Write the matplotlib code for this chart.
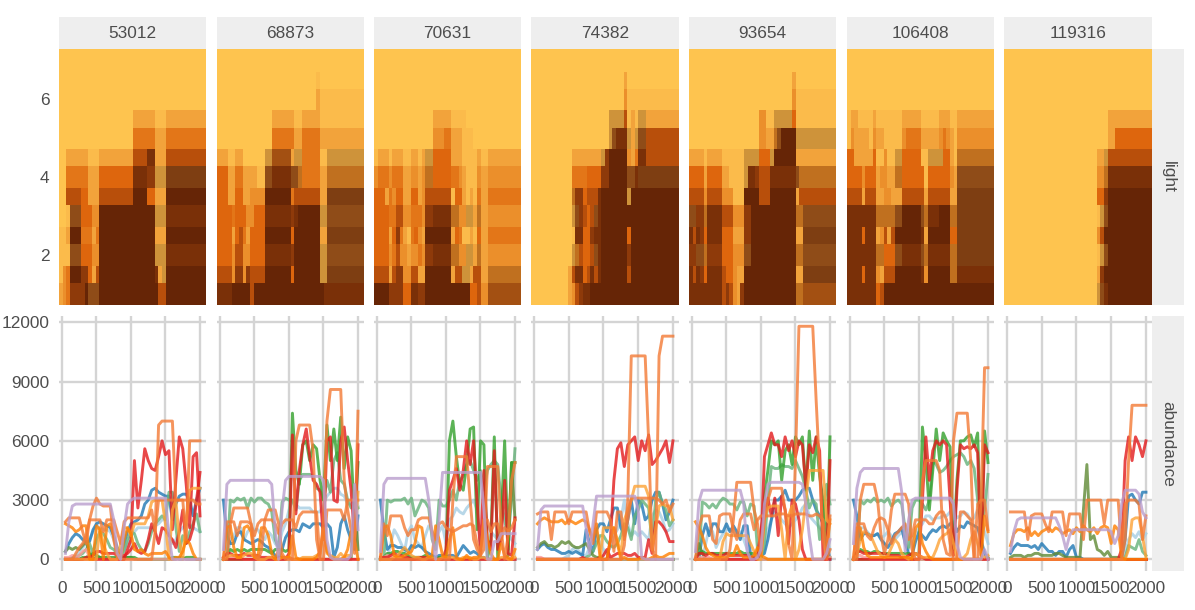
import numpy as np
import matplotlib
matplotlib.use("Agg")
import matplotlib.pyplot as plt
from matplotlib.colors import ListedColormap

plt.rcParams["font.family"] = ["Liberation Sans", "DejaVu Sans"]

panel_ids = [53012, 68873, 70631, 74382, 93654, 106408, 119316]
times = list(range(50, 2001, 50))
light_edges = [0.72, 1.28, 1.72, 2.28, 2.72, 3.28, 3.72, 4.28, 4.72, 5.26, 5.72, 6.26, 6.69, 7.28]
x_edges = [25 + 50 * i for i in range(41)]

# colour steps of the light panels, each row below is "<step>x<run length>" over the 40 times
steps = "0123456789abcde"
step_colors = ["#FEC44F", "#FBBB4B", "#F2A33B", "#EB8F2B", "#E37618", "#DE660D", "#B84F0B", "#8E3A0A",
               "#7A3008", "#662506", "#CE933A", "#C0701F", "#8F4C18", "#7E3E12", "#A35012"]

# rows run from light 7 down to light 1
light_53012 = ["0x40", "0x40", "0x40",
               "0x20 2x6 1x3 2x11",
               "0x20 4x6 2x3 4x11",
               "0x2 2x6 1x3 2x9 6x4 8x2 2x3 6x11",
               "0x2 4x6 2x3 5x9 8x4 7x2 ax3 dx11",
               "0x2 6x4 5x2 2x3 6x9 9x4 5x2 2x3 9x11",
               "0x2 1x1 cx3 5x3 3x2 9x15 ax3 8x11",
               "1x2 2x1 9x3 4x3 2x1 4x1 9x15 2x3 9x11",
               "1x2 1x1 cx3 5x3 3x2 9x15 ax3 8x11",
               "1x1 3x1 4x1 9x3 7x2 5x1 2x1 6x1 9x15 8x1 2x1 ax1 9x11",
               "2x1 3x1 4x1 7x4 9x1 cx3 9x16 6x2 9x11"]
light_68873 = ["0x40",
               "0x27 1x1 0x12",
               "0x27 2x1 1x12",
               "0x15 2x6 1x2 2x4 2x1 1x12",
               "0x15 4x6 2x2 4x4 4x1 2x12",
               "2x3 1x2 2x2 0x6 ax2 ex5 2x1 ax2 4x5 1x2 ax10",
               "5x3 2x2 4x2 2x4 1x2 cx2 8x5 cx2 bx1 4x5 2x2 bx10",
               "5x3 2x2 5x2 2x2 3x4 9x7 4x1 6x7 2x2 dx10",
               "5x4 4x1 5x3 3x2 5x3 8x7 7x1 8x1 9x6 ax2 cx10",
               "5x4 2x1 5x1 6x1 4x1 2x1 5x4 9x7 5x1 9x7 2x2 dx10",
               "5x4 3x1 6x2 3x2 5x4 8x7 7x1 9x7 ax2 cx10",
               "6x4 3x1 7x2 3x1 7x1 6x4 9x7 5x1 9x7 ax2 dx10",
               "8x4 9x5 6x1 9x19 8x11"]
light_70631 = ["0x40", "0x40", "0x40",
               "0x16 2x5 1x4 0x15",
               "0x16 3x3 4x2 2x3 1x3 0x13",
               "1x1 2x3 1x1 2x3 1x2 2x2 1x1 2x1 ax2 5x5 2x3 1x4 2x1 1x2 2x9",
               "3x1 4x3 3x1 4x3 2x2 3x2 2x1 3x1 bx2 5x5 4x2 3x1 2x1 1x3 3x1 2x2 3x9",
               "5x3 2x1 4x1 3x1 5x2 2x2 5x2 2x1 3x1 6x7 1x1 5x2 2x1 1x1 2x1 1x1 4x1 2x2 4x9",
               "5x4 4x2 6x2 3x2 4x3 3x1 7x2 8x5 bx2 3x2 ax2 2x1 bx1 2x2 3x9",
               "5x4 2x1 5x1 7x1 4x1 2x1 1x1 4x1 5x1 3x1 2x1 9x7 2x1 5x1 4x1 1x2 2x1 1x1 5x1 2x2 4x9",
               "5x4 3x1 4x1 6x1 3x1 3x1 2x1 3x2 4x1 3x1 7x2 8x5 bx2 3x2 ax2 2x1 bx1 2x2 3x9",
               "6x4 2x1 6x1 7x2 3x2 6x2 2x2 9x7 2x1 6x2 ax2 2x1 6x2 2x2 bx9",
               "9x4 7x4 5x2 8x2 7x2 9x12 5x2 6x1 3x2 ex9"]
light_74382 = ["0x40",
               "0x25 2x1 0x14",
               "0x25 3x1 1x14",
               "0x21 ax4 6x1 1x1 2x1 1x1 ax2 2x9",
               "0x21 ax1 cx1 8x3 ax1 2x1 ax1 cx2 6x9",
               "0x11 2x8 ax1 7x1 9x5 3x1 2x1 4x1 8x2 6x9",
               "0x11 4x4 5x4 7x2 9x5 cx2 8x1 dx11",
               "0x11 bx1 7x2 5x1 6x3 8x1 9x7 ax1 9x13",
               "0x11 ax1 cx1 7x1 6x1 5x1 6x1 cx1 8x1 9x21",
               "0x11 1x1 8x2 5x2 7x1 8x2 9x7 5x1 9x13",
               "0x11 ax1 bx1 6x1 5x1 5x1 6x1 cx1 8x1 9x7 7x1 9x13",
               "0x10 2x1 6x1 8x2 5x1 6x1 8x1 6x1 8x1 9x7 6x1 9x13",
               "0x10 2x1 3x1 6x1 7x1 8x2 9x24"]
light_93654 = ["0x40",
               "0x28 2x1 0x11",
               "0x28 3x1 1x11",
               "0x19 3x2 1x2 ax5 5x1 1x11",
               "0x19 3x2 2x2 bx1 cx1 9x4 ax11",
               "2x4 1x1 2x4 1x6 ax4 5x3 ax1 9x6 2x11",
               "5x4 2x1 5x4 2x2 1x4 ax1 8x2 7x1 6x3 8x7 cx1 bx10",
               "6x4 3x1 6x4 3x3 1x3 9x4 6x3 9x7 2x1 6x10",
               "cx2 7x2 bx1 8x4 6x3 3x3 7x2 9x12 bx2 cx9",
               "8x1 6x1 8x1 7x1 5x1 8x4 5x3 2x3 7x2 9x12 2x2 dx9",
               "7x2 cx2 bx1 7x4 5x3 3x3 cx2 9x12 bx2 cx9",
               "8x1 6x1 8x1 7x1 5x1 8x4 6x1 5x2 3x1 2x2 9x14 2x2 dx9",
               "8x9 6x1 7x1 6x1 3x1 2x1 7x1 9x14 bx2 ex9"]
light_106408 = ["0x40", "0x40", "0x40",
                "1x1 2x2 1x4 2x1 1x7 2x5 1x5 2x3 1x2 2x10",
                "1x1 3x1 2x4 1x1 3x1 2x2 1x5 3x1 4x4 2x5 3x1 4x1 3x1 2x1 1x1 3x10",
                "5x2 2x5 5x1 1x2 3x1 1x2 ax2 5x5 1x2 ax4 5x2 2x1 1x1 bx10",
                "5x4 3x1 5x3 2x1 3x2 2x2 bx2 5x6 1x1 5x6 3x1 2x1 cx10",
                "6x4 2x1 6x3 2x2 3x2 2x3 6x6 2x1 6x6 2x2 dx10",
                "8x8 bx5 cx2 9x5 cx1 bx1 8x3 9x3 bx2 dx10",
                "8x4 5x1 8x3 2x1 3x1 6x1 2x1 6x1 9x7 8x1 2x1 9x6 5x2 dx10",
                "8x8 bx2 5x3 cx2 8x5 cx1 bx1 8x6 bx2 dx10",
                "8x4 5x1 8x3 3x1 2x1 6x3 9x7 8x1 3x1 9x6 bx2 8x10",
                "8x8 5x1 6x1 9x30"]
light_119316 = ["0x40", "0x40", "0x40",
                "0x28 2x12",
                "0x28 2x2 5x10",
                "0x25 2x2 ax1 6x12",
                "0x25 3x2 bx1 8x12",
                "0x25 5x2 7x1 9x12",
                "0x25 1x1 ax1 cx1 9x12",
                "0x25 3x1 6x1 9x13",
                "0x25 1x1 ax1 cx1 9x12",
                "0x25 2x1 7x1 9x13",
                "0x25 ax1 cx1 8x1 9x12"]

# abundance in hundreds, one row per taxon, same order in every panel:
# light blue, blue, sea green, olive, green, pink, dark red, red, light orange, orange, salmon, salmon, lilac
line_colors = ["#a6cee3", "#1f78b4", "#66b27a", "#5f8a35", "#33a02c", "#fb9a99", "#e31a1c", "#e31a1c",
               "#fda235", "#ff7f00", "#f37a35", "#f37a35", "#ba9ece"]

lines_53012 = [
    [0,0,0,2,4,6,8,10,14,17, 16,15,15,14,10,4,2,5,8,12, 14,16,16,16,16,16,17,18,20,20, 14,8,10,14,16,18,17,16,15,14],
    [4,8,11,13,12,10,9,9,15,18, 19,18,17,16,12,6,3,8,14,18, 19,20,22,28,30,35,36,34,33,32, 32,20,28,32,33,33,30,22,30,36],
    [0,0,1,1,2,3,5,8,3,10, 14,13,10,6,5,3,2,4,10,14, 13,8,5,4,8,14,18,20,22,20, 34,34,16,4,12,8,14,18,23,14],
    [4,6,5,6,5,7,9,3,0,1, 1,0,0,0,0,1,0,0,1,1, 0,0,0,0,0,0,0,0,0,0, 0,0,0,1,1,0,0,0,0,0],
    [0,0,0,0,0,1,1,2,3,2, 1,1,1,1,1,1,1,1,1,1, 1,0,0,0,0,0,0,0,0,0, 0,1,1,0,0,1,1,1,0,0],
    [1,1,2,1,2,4,5,1,0,0, 0,0,0,0,0,0,0,0,0,0, 0,0,0,0,0,0,0,0,0,0, 0,0,0,0,0,0,0,0,0,0],
    [0,0,0,0,0,0,1,1,2,4, 4,3,3,3,3,2,1,2,3,5, 8,4,3,4,10,18,14,8,16,15, 12,10,6,14,25,8,10,16,30,44],
    [0,0,0,0,0,0,0,0,0,0, 0,0,0,0,0,0,0,0,5,10, 50,26,40,56,50,46,45,52,60,53, 55,15,40,62,56,38,16,52,54,22],
    [0,0,0,0,0,0,0,0,0,0, 16,8,3,0,0,0,8,16,16,12, 18,18,18,18,22,29,30,30,30,18, 0,25,30,10,0,20,35,36,36,36],
    [18,17,16,14,15,17,17,0,0,17, 15,0,17,18,12,4,1,10,16,13, 5,4,5,3,2,3,3,3,3,4, 1,0,1,1,4,10,8,3,0,0],
    [19,21,21,21,21,14,8,20,20,20, 20,14,20,20,20,14,8,19,21,21, 21,21,21,21,21,25,14,68,70,70, 70,70,30,30,30,10,60,60,60,60],
    [0,0,0,3,6,8,12,20,27,31, 28,27,27,27,10,1,0,0,0,0, 0,0,0,0,0,0,14,30,30,30, 30,30,30,30,30,30,30,30,28,28],
    [3,19,27,28,28,28,28,28,28,28, 28,28,28,28,20,3,0,16,28,30, 31,31,31,31,31,31,31,31,31,31, 12,0,0,0,0,0,0,0,0,0],
]
lines_68873 = [
    [0,0,10,12,16,16,10,14,16,15, 15,12,10,14,12,8,6,14,18,25, 30,28,26,26,26,26,24,24,24,28, 32,34,36,36,33,32,28,28,30,27],
    [30,12,8,8,13,14,10,9,8,9, 10,9,7,6,4,2,1,5,11,14, 15,15,14,18,17,16,18,18,18,16, 18,16,1,6,18,22,15,10,5,22],
    [0,0,30,29,31,30,31,26,31,29, 31,31,29,28,24,10,6,29,31,30, 30,25,40,43,43,43,42,36,35,30, 40,34,50,54,40,38,30,26,28,26],
    [0,0,0,0,0,0,0,0,0,0, 0,0,0,0,0,0,0,0,0,0, 0,0,0,0,0,0,0,0,0,0, 0,0,0,0,0,0,0,0,30,5],
    [0,2,5,4,5,4,5,4,5,5, 5,5,5,4,3,5,5,5,4,5, 74,45,38,58,60,50,58,56,40,30, 68,50,66,50,72,46,62,55,20,49],
    [1,2,1,1,1,1,0,0,0,0, 0,0,0,0,0,0,0,0,0,0, 0,0,0,0,0,0,0,0,0,0, 0,0,0,0,0,0,0,0,0,0],
    [1,3,3,2,2,2,3,2,2,2, 2,1,1,1,1,0,1,1,1,1, 0,0,0,0,0,0,0,0,0,0, 0,0,0,0,0,0,0,0,0,0],
    [0,0,0,0,0,0,0,0,0,0, 0,0,0,0,0,0,0,0,0,3, 63,23,45,58,66,52,40,38,34,10, 60,62,30,29,60,67,50,35,10,58],
    [0,1,2,2,1,1,2,3,3,1, 0,0,0,1,1,0,0,1,1,1, 0,0,0,1,1,1,1,2,3,15, 3,2,1,1,3,1,2,2,10,34],
    [0,16,17,6,1,1,16,17,14,1, 1,16,16,12,3,0,5,1,1,1, 12,1,0,0,0,0,0,1,4,16, 4,1,0,0,0,1,5,14,10,0],
    [0,19,19,19,12,19,19,19,18,12, 18,20,20,20,20,18,13,18,20,20, 20,16,22,24,24,24,24,24,0,0, 25,25,25,25,25,20,30,30,30,30],
    [0,0,18,26,26,26,26,26,18,3, 0,4,20,25,25,25,18,3,0,0, 0,60,68,68,68,68,55,10,0,20, 70,86,86,86,86,40,25,15,3,75],
    [5,38,40,40,40,40,40,40,40,40, 40,40,40,40,38,15,0,25,40,42, 42,42,42,42,42,42,42,42,42,40, 10,1,0,0,0,0,0,2,38,15],
]
lines_70631 = [
    [0,0,0,8,15,12,8,4,14,17, 10,8,6,12,17,14,10,14,17,8, 20,22,26,24,23,26,28,30,25,8, 15,17,14,12,10,14,16,14,10,8],
    [30,15,5,7,7,6,6,5,4,7, 6,7,6,4,3,2,1,2,2,1, 2,2,1,4,7,5,3,4,3,1, 1,0,0,0,0,0,0,0,0,0],
    [0,0,30,29,30,30,30,31,28,31, 22,26,30,29,26,10,5,30,27,27, 30,35,30,40,42,48,50,45,40,45, 35,45,48,50,48,30,20,10,30,56],
    [0,0,0,0,0,0,0,0,0,0, 0,0,0,0,0,0,0,0,0,0, 0,0,0,0,0,0,0,0,0,0, 0,0,0,0,0,0,0,2,49,20],
    [0,1,3,3,4,4,3,3,2,1, 1,1,1,2,1,1,0,1,1,1, 60,70,52,38,35,48,66,67,15,60, 58,0,10,62,1,20,60,5,49,49],
    [1,1,2,1,1,0,0,0,0,0, 0,0,0,0,0,0,0,0,0,0, 0,0,0,0,0,0,0,0,0,0, 0,0,0,0,0,0,0,0,0,0],
    [1,1,1,2,3,2,2,1,1,0, 0,1,1,1,0,0,0,0,0,0, 0,0,0,0,0,0,0,0,0,0, 0,0,0,0,0,0,0,0,0,0],
    [0,0,0,0,0,0,0,0,0,0, 0,0,0,0,0,0,0,0,0,5, 35,40,46,35,45,60,48,60,30,3, 45,10,5,55,5,10,40,3,2,21],
    [0,0,0,0,1,2,4,6,4,2, 1,1,0,0,1,1,0,0,1,1, 1,1,0,0,1,1,1,0,0,1, 1,0,0,0,0,1,1,0,0,1],
    [0,16,17,12,2,1,1,2,3,4, 8,17,16,4,1,2,17,10,2,1, 10,16,1,0,0,2,0,1,1,2, 20,10,3,0,0,8,2,1,0,5],
    [0,18,12,22,22,22,22,16,12,15, 15,20,21,21,21,14,10,18,19,16, 15,14,15,16,17,17,18,17,8,3, 20,20,14,18,18,10,16,14,16,20],
    [0,0,0,0,0,0,0,0,0,0, 0,0,0,0,0,0,0,0,0,0, 0,30,52,52,52,52,30,10,5,2, 5,47,47,47,47,15,0,12,40,49],
    [4,38,41,41,41,41,41,41,41,41, 41,41,41,41,30,12,0,20,44,44, 44,44,44,44,44,44,44,44,44,44, 25,0,0,9,9,13,13,13,13,13],
]
lines_74382 = [
    [0,0,0,0,0,0,0,0,1,2, 5,6,4,2,2,6,10,14,8,5, 3,6,12,15,20,30,18,12,14,12, 14,12,10,22,25,24,20,14,15,18],
    [5,7,8,6,5,5,4,3,3,4, 3,4,3,2,15,8,4,15,18,18, 14,20,26,26,16,12,20,30,18,30, 28,20,22,30,34,34,28,20,24,30],
    [0,0,0,0,0,0,0,0,0,0, 0,0,0,0,1,2,4,8,12,12, 9,7,6,8,12,18,16,10,22,25, 30,28,26,8,30,34,28,25,17,20],
    [6,8,9,7,7,6,7,9,8,9, 7,6,6,7,8,5,2,1,1,0, 0,0,0,0,0,0,0,0,0,0, 0,0,0,0,0,0,0,0,0,0],
    [0,0,0,0,0,0,0,0,0,0, 0,0,0,0,0,0,0,0,0,0, 0,0,0,0,0,0,0,0,0,0, 0,0,0,0,0,0,0,0,0,0],
    [1,1,0,0,0,0,0,0,0,0, 0,0,0,0,0,0,0,0,0,0, 0,0,0,0,0,0,0,0,0,0, 0,0,0,0,0,0,0,0,0,0],
    [0,0,0,0,0,0,0,0,0,0, 0,0,0,1,0,0,0,0,1,2, 5,1,2,3,3,3,2,2,3,1, 1,1,10,3,19,19,17,14,9,9],
    [0,0,0,0,0,0,0,0,0,0, 0,0,0,0,0,0,0,0,0,0, 0,10,40,56,59,47,58,60,62,50, 60,55,63,48,50,53,56,60,49,60],
    [0,0,0,0,0,0,0,0,0,0, 0,0,0,0,0,0,0,0,0,16, 16,16,16,10,2,20,25,30,37,37, 37,37,32,5,15,27,28,27,27,20],
    [18,20,21,20,19,19,19,20,18,20, 19,18,19,20,19,15,10,18,1,0, 0,10,16,8,0,1,0,0,0,0, 1,0,0,1,2,1,1,2,3,3],
    [23,24,24,24,10,24,24,24,24,18, 24,24,24,24,24,14,8,24,24,24, 24,20,4,24,24,10,20,31,31,31, 31,31,31,31,31,30,28,30,24,28],
    [0,0,0,0,0,0,0,0,0,0, 0,0,0,0,0,0,0,0,0,0, 0,0,0,0,0,7,30,103,103,103, 103,103,60,5,0,103,113,113,113,113],
    [5,25,27,27,27,27,27,27,27,27, 27,27,27,27,16,3,18,32,32,32, 32,32,32,32,32,32,32,32,32,25, 1,0,0,0,0,0,0,0,0,0],
]
lines_93654 = [
    [0,0,0,8,16,14,6,10,13,15, 15,14,12,14,10,5,1,1,1,1, 5,15,20,24,22,20,18,16,18,20, 22,26,28,22,20,18,16,14,10,5],
    [0,0,12,18,12,18,18,14,14,18, 14,17,14,10,17,17,2,1,1,2, 3,10,20,30,30,32,35,30,30,30, 32,35,36,36,30,25,22,18,8,0],
    [0,0,29,28,26,28,26,29,31,30, 28,28,25,29,29,22,28,27,5,0, 8,30,47,46,46,48,47,47,46,50, 46,42,35,26,30,28,10,20,38,28],
    [0,8,3,0,0,0,0,0,0,0, 0,0,0,0,0,0,0,0,0,0, 0,0,0,0,0,0,0,0,0,0, 0,0,0,0,0,0,0,0,1,1],
    [0,3,4,3,3,3,3,3,3,3, 3,3,3,4,3,3,3,3,2,3, 32,45,60,58,60,40,55,58,48,62, 58,62,35,65,40,62,42,30,2,62],
    [1,1,1,1,1,0,0,0,0,0, 0,0,0,0,0,0,0,0,0,0, 0,0,0,0,0,0,0,0,0,0, 0,0,0,0,0,0,0,0,0,1],
    [0,3,3,2,3,3,2,2,2,3, 2,2,2,2,2,2,1,1,2,15, 25,31,22,31,12,32,25,8,30,28, 20,5,0,0,0,0,0,0,0,0],
    [0,0,0,0,0,0,0,0,0,0, 0,0,0,0,0,0,0,0,0,6, 52,58,64,58,58,52,62,55,60,52, 60,58,36,58,54,62,55,1,0,50],
    [0,0,0,0,0,0,0,0,9,13, 12,12,12,12,12,12,8,4,0,0, 20,26,27,27,27,15,0,22,27,0, 5,15,30,45,45,45,45,45,20,18],
    [19,16,12,6,3,2,1,1,1,1, 2,2,7,3,1,1,1,2,6,2, 1,0,0,0,0,0,0,0,0,0, 0,0,0,0,0,0,0,0,3,20],
    [0,16,22,22,22,10,8,22,23,23, 23,15,10,20,23,23,23,15,20,22, 22,22,22,22,23,23,23,22,22,23, 23,23,23,22,22,23,22,20,4,22],
    [0,0,0,0,0,0,0,0,0,0, 5,20,39,39,39,39,39,25,18,3, 20,30,36,36,36,36,25,8,0,50, 118,118,118,118,118,80,45,10,0,5],
    [4,29,35,35,35,35,35,35,35,35, 35,35,35,35,28,4,0,0,1,5, 28,38,39,39,39,39,39,39,39,39, 39,38,28,12,0,0,0,0,3,10],
]
lines_106408 = [
    [0,0,16,16,14,12,12,13,11,12, 14,12,10,12,14,10,5,10,14,16, 18,22,22,20,21,21,22,22,24,25, 21,22,24,23,20,21,25,22,14,8],
    [30,22,10,13,13,12,12,13,10,8, 6,9,13,14,16,8,3,2,9,14, 12,10,13,15,14,16,17,16,18,19, 14,17,16,19,18,17,16,10,3,0],
    [0,1,30,28,30,29,31,29,30,29, 31,27,29,30,28,15,6,26,30,30, 28,25,30,50,48,44,45,47,50,52, 53,54,52,48,50,46,30,18,25,43],
    [0,0,0,0,0,0,0,0,0,0, 0,0,0,0,0,0,0,0,0,0, 0,0,0,0,0,0,0,0,0,0, 0,0,0,0,0,0,0,0,0,1],
    [0,3,5,4,4,3,4,4,3,3, 3,3,3,3,3,3,3,2,3,2, 67,50,25,45,66,50,64,60,57,5, 40,60,60,62,63,57,64,5,65,49],
    [1,2,2,1,1,0,0,0,0,0, 0,0,0,0,0,0,0,0,0,0, 0,0,0,0,0,0,0,0,0,0, 0,0,0,0,0,0,0,0,0,0],
    [0,4,4,3,3,3,3,3,3,3, 2,2,2,2,1,1,2,3,3,2, 1,0,0,0,0,0,0,0,0,0, 0,0,0,0,0,0,0,0,0,0],
    [0,0,0,0,0,0,0,0,0,0, 0,0,0,0,0,0,0,0,0,0, 30,62,40,55,60,58,60,58,30,2, 35,58,56,57,56,58,54,2,58,54],
    [0,2,10,14,13,12,8,4,2,1, 2,6,10,8,3,1,0,1,3,2, 1,1,1,1,5,10,12,13,15,8, 0,0,1,3,10,14,8,2,1,2],
    [0,16,16,6,2,1,1,1,1,1, 1,1,1,1,1,1,1,0,16,18, 8,4,1,0,0,0,0,0,0,0, 0,0,0,0,0,0,0,0,22,14],
    [0,18,18,18,12,10,16,20,21,20, 15,8,12,14,16,18,10,12,20,20, 20,20,18,18,22,24,24,20,8,0, 0,24,24,22,20,0,28,30,30,15],
    [0,0,30,38,38,38,38,30,12,3, 10,25,33,33,33,33,28,5,0,0, 40,50,50,50,50,45,10,3,2,60, 74,74,74,74,50,0,0,30,97,97],
    [8,36,44,46,46,46,46,46,46,46, 46,46,46,46,34,4,20,30,31,31, 31,31,31,31,31,31,31,31,31,28, 8,1,0,0,0,0,0,0,5,0],
]
lines_119316 = [
    [0,0,0,0,0,0,0,0,0,0, 0,0,0,0,0,0,0,0,0,0, 0,0,0,0,0,0,0,0,0,0, 0,0,0,3,10,13,11,14,10,13],
    [3,6,8,7,7,7,6,7,5,8, 6,4,4,2,4,4,1,5,7,1, 1,0,0,0,0,0,0,0,0,0, 0,0,1,10,32,33,30,28,34,34],
    [0,0,0,0,0,0,0,0,0,0, 0,0,0,0,0,0,0,0,0,0, 0,0,0,0,0,0,0,0,0,0, 0,0,0,1,7,6,5,10,4,2],
    [1,2,2,2,1,2,2,3,3,2, 2,2,2,3,3,2,1,1,1,1, 1,25,48,10,12,5,4,2,4,1, 1,1,0,0,0,0,0,0,0,0],
    [0,0,0,0,0,0,0,0,0,0, 0,0,0,0,0,0,0,0,0,0, 0,0,0,0,0,0,0,0,0,0, 0,0,0,0,0,0,0,0,0,0],
    [0,0,0,0,0,0,0,0,0,0, 0,0,0,0,0,0,0,0,0,0, 0,0,0,0,0,0,0,0,0,0, 0,0,0,0,0,0,0,0,0,0],
    [0,0,0,0,0,0,0,0,0,0, 0,0,0,0,0,0,0,0,0,0, 0,0,0,0,0,0,0,0,0,0, 0,0,0,0,0,0,0,0,0,0],
    [0,0,0,0,0,0,0,0,0,0, 0,0,0,0,0,0,0,0,0,0, 0,0,0,0,0,0,0,0,0,0, 0,0,5,50,62,50,62,58,52,60],
    [0,0,0,0,0,0,0,0,0,0, 0,0,0,0,0,0,0,0,0,0, 0,0,0,0,0,0,0,0,0,0, 0,0,0,0,5,20,21,21,12,1],
    [7,13,15,15,14,16,12,14,12,14, 15,16,14,16,15,13,14,15,13,16, 14,17,15,14,16,13,16,17,16,8, 17,15,1,0,0,0,0,0,0,0],
    [24,24,24,24,24,10,22,23,23,23, 18,14,24,24,24,24,12,23,23,23, 23,10,30,30,30,30,30,18,30,30, 30,30,5,28,30,30,30,28,10,22],
    [0,0,0,0,0,0,0,0,0,0, 0,0,0,0,0,0,0,0,0,0, 0,0,0,0,0,0,0,0,0,0, 0,0,0,10,50,78,78,78,78,78],
    [4,14,20,21,21,21,21,21,21,21, 21,21,21,21,17,12,5,12,15,15, 15,15,15,15,15,15,15,15,15,14, 8,12,28,35,35,35,35,33,24,21],
]

panel_light = [light_53012, light_68873, light_70631, light_74382, light_93654, light_106408, light_119316]
panel_lines = [lines_53012, lines_68873, lines_70631, lines_74382, lines_93654, lines_106408, lines_119316]

lefts = [59, 217, 374, 531, 689, 847, 1004]
rights = [206, 364, 521, 679, 836, 994, 1152]
W, H = 1195, 610
TEXT = "#4D4D4D"
STRIP = "#EEEEEE"
GRID = "#D4D4D4"
FS = 12.4


def px_axes(fig, x0, y0, x1, y1):
    # pixel box measured from the top left of the image
    return fig.add_axes([x0 / W, 1 - y1 / H, (x1 - x0) / W, (y1 - y0) / H])


def decode(row):
    cells = []
    for token in row.split():
        key, count = token.split("x")
        cells += [steps.index(key)] * int(count)
    if len(cells) != 40:
        print("bad row", row, len(cells))
    return cells[:40]


def strip(fig, box, label, rotation=0):
    ax = px_axes(fig, *box)
    ax.set_facecolor(STRIP)
    ax.set_xticks([])
    ax.set_yticks([])
    for s in ax.spines.values():
        s.set_visible(False)
    ax.text(0.5, 0.5, label, transform=ax.transAxes, ha="center", va="center",
            rotation=rotation, color=TEXT, fontsize=FS)


fig = plt.figure(figsize=(W / 100, H / 100), dpi=100)
cmap = ListedColormap(step_colors)

for i, pid in enumerate(panel_ids):
    x0, x1 = lefts[i], rights[i]
    strip(fig, (x0, 17, x1, 49), str(pid))

    ax = px_axes(fig, x0, 49, x1, 305)
    grid = np.array([decode(r) for r in panel_light[i]][::-1])
    ax.pcolormesh(x_edges, light_edges, grid, cmap=cmap, vmin=-0.5, vmax=len(steps) - 0.5, shading="flat")
    ax.set_xlim(25, 2025)
    ax.set_ylim(0.72, 7.28)
    ax.set_xticks([])
    ax.set_yticks([2, 4, 6] if i == 0 else [])
    ax.tick_params(length=0, pad=7, labelsize=FS, labelcolor=TEXT)
    for s in ax.spines.values():
        s.set_visible(False)

    ax2 = px_axes(fig, x0, 316, x1, 571)
    ax2.set_xlim(-43, 2087)
    ax2.set_ylim(-590, 12320)
    ax2.set_axisbelow(True)
    ax2.grid(True, color=GRID, linewidth=1.7)
    for vals, col in zip(panel_lines[i], line_colors):
        if len(vals) != 40:
            print("bad series", pid, len(vals))
        ax2.plot(times[:len(vals)], np.array(vals) * 100, color=col, alpha=0.8, linewidth=2.1,
                 solid_joinstyle="round")
    ax2.set_xticks([0, 500, 1000, 1500, 2000])
    ax2.set_yticks([0, 3000, 6000, 9000, 12000])
    if i > 0:
        ax2.set_yticklabels([])
    ax2.tick_params(length=0, pad=7, labelsize=FS, labelcolor=TEXT)
    for s in ax2.spines.values():
        s.set_visible(False)

strip(fig, (1152, 49, 1184, 305), "light", rotation=-90)
strip(fig, (1152, 316, 1184, 571), "abundance", rotation=-90)

fig.savefig("out.png", dpi=100)
